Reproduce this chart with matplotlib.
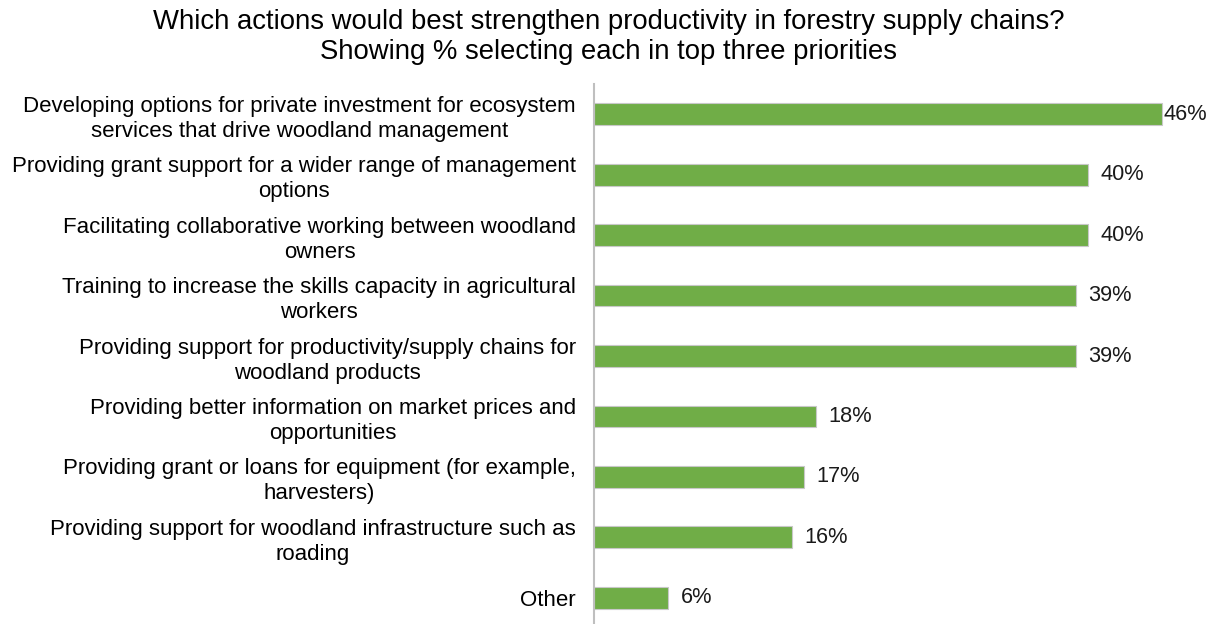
import matplotlib
matplotlib.use("Agg")
from matplotlib import pyplot as plt

plt.rcParams['font.family'] = ['Liberation Sans', 'DejaVu Sans']

# survey answers, top to bottom
labels = [
    "Developing options for private investment for ecosystem\nservices that drive woodland management",
    "Providing grant support for a wider range of management\noptions",
    "Facilitating collaborative working between woodland\nowners",
    "Training to increase the skills capacity in agricultural\nworkers",
    "Providing support for productivity/supply chains for\nwoodland products",
    "Providing better information on market prices and\nopportunities",
    "Providing grant or loans for equipment (for example,\nharvesters)",
    "Providing support for woodland infrastructure such as\nroading",
    "Other",
]
pct = [46, 40, 40, 39, 39, 18, 17, 16, 6]

W, H = 1217, 624
fig = plt.figure(figsize=(W / 100, H / 100), dpi=100)
# axes placed in pixel terms
left, right, top, bottom = 594, 1207, 84, 628
ax = fig.add_axes([left / W, 1 - bottom / H, (right - left) / W, (bottom - top) / H])

ypos = list(range(len(labels)))
ax.barh(ypos, pct, height=0.36, color='#70AD47', edgecolor='#C8C8C8', linewidth=0.8)
ax.set_ylim(len(labels) - 0.5, -0.5)
ax.set_xlim(0, (right - left) / 12.35)

ax.set_yticks(ypos)
ax.set_yticklabels(labels, fontsize=16, ha='right', multialignment='center')
for t in ax.get_yticklabels():
    t.set_linespacing(1.25)
    t.set_y(t.get_position()[1])
ax.tick_params(axis='y', length=0, pad=13)
ax.set_xticks([])

for s in ['top', 'right', 'bottom']:
    ax.spines[s].set_visible(False)
ax.spines['left'].set_color('#BFBFBF')
ax.spines['left'].set_linewidth(1.5)

for i, v in enumerate(pct):
    off = 1 if i == 0 else 9
    ax.annotate(f"{v}%", (v, i), xytext=(off, 0), textcoords='offset points',
                va='center', ha='left', fontsize=15.7, color='#1a1a1a')

fig.text(0.5, 1 - 37 / H,
         "Which actions would best strengthen productivity in forestry supply chains?\n"
         "Showing % selecting each in top three priorities",
         ha='center', va='center', fontsize=19.8, linespacing=1.2, color='#000000')

fig.savefig("out.png", dpi=100, facecolor='white')
